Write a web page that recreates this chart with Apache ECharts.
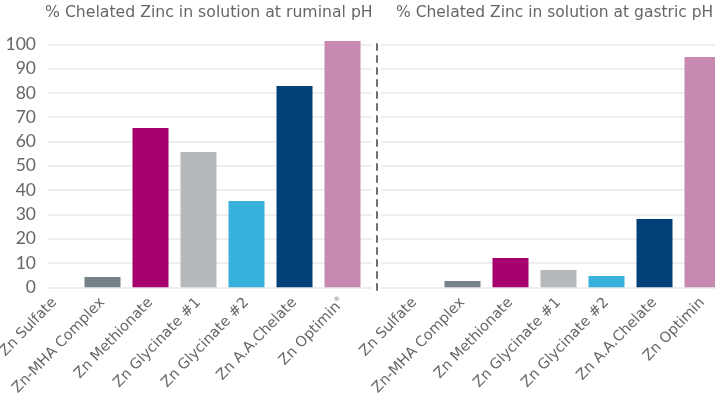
<!DOCTYPE html>
<html>
<head>
<meta charset="utf-8">
<script src="https://cdn.jsdelivr.net/npm/echarts@6/dist/echarts.min.js"></script>
<style>
  html, body { margin: 0; padding: 0; background: #fff; }
  #chart { width: 715px; height: 416px; }
</style>
</head>
<body>
<div id="chart"></div>
<script>
// categories and values
const categoriesRuminal = ['Zn Sulfate', 'Zn-MHA Complex', 'Zn Methionate', 'Zn Glycinate #1', 'Zn Glycinate #2', 'Zn A.A.Chelate', 'Zn Optimin']
const categoriesGastric = ['Zn Sulfate', 'Zn-MHA Complex', 'Zn Methionate', 'Zn Glycinate #1', 'Zn Glycinate #2', 'Zn A.A.Chelate', 'Zn Optimin']
const ruminalValues = [0, 4.2, 65.6, 55.7, 35.5, 82.8, 101.4]
const gastricValues = [0, 2.6, 12.1, 7.1, 4.6, 28.1, 94.8]
const barColors = ['#748187', '#748187', '#a5006e', '#b6b9bc', '#38b1dc', '#003f77', '#c889b0']
const yTicks = [0, 10, 20, 30, 40, 50, 60, 70, 80, 90, 100]
const titles = ['% Chelated Zinc in solution at ruminal pH', '% Chelated Zinc in solution at gastric pH']

const FONT = 'DejaVu Sans'
const TEXT = '#666666'

let myChart = echarts.init(document.getElementById('chart'))

const barData = (vals) => vals.map((v, i) => ({ value: v, itemStyle: { color: barColors[i] } }))

const plotTop = 44.3
const plotH = 243

let option = {
  animation: false,
  textStyle: { fontFamily: FONT },
  title: [
    { text: titles[0], left: 45, top: 5, padding: 0, textStyle: { fontFamily: FONT, fontSize: 15.7, fontWeight: 'normal', color: TEXT } },
    { text: titles[1], left: 396, top: 5, padding: 0, textStyle: { fontFamily: FONT, fontSize: 15.5, fontWeight: 'normal', color: TEXT } }
  ],
  grid: [
    // bar grids
    { left: 30.5, top: plotTop, width: 336, height: plotH, outerBoundsMode: 'none' },
    { left: 390.5, top: plotTop, width: 336, height: plotH, outerBoundsMode: 'none' },
    // gridline grids
    { left: 48, top: plotTop, width: 324, height: plotH, outerBoundsMode: 'none' },
    { left: 381, top: plotTop, width: 334, height: plotH, outerBoundsMode: 'none' },
    // separator
    { left: 377, top: 40, width: 1, height: 250, outerBoundsMode: 'none' }
  ],
  xAxis: [
    {
      gridIndex: 0, type: 'category', data: categoriesRuminal,
      axisLine: { show: false }, axisTick: { show: false },
      axisLabel: {
        rotate: 46, margin: 13, fontSize: 14.5, color: TEXT, fontFamily: FONT, interval: 0,
        formatter: (v, i) => i === 6 ? v + '{r|®}' : v,
        rich: { r: { fontSize: 6, color: TEXT, verticalAlign: 'top', lineHeight: 10 } }
      }
    },
    {
      gridIndex: 1, type: 'category', data: categoriesGastric,
      axisLine: { show: false }, axisTick: { show: false },
      axisLabel: { rotate: 46, margin: 13, fontSize: 14.5, color: TEXT, fontFamily: FONT, interval: 0 }
    },
    { gridIndex: 2, type: 'value', show: false },
    { gridIndex: 3, type: 'value', show: false },
    { gridIndex: 4, type: 'value', show: false }
  ],
  yAxis: [
    { gridIndex: 0, type: 'value', min: 0, max: 100, interval: 10, show: false },
    { gridIndex: 1, type: 'value', min: 0, max: 100, interval: 10, show: false },
    {
      gridIndex: 2, type: 'value', min: yTicks[0], max: yTicks[yTicks.length - 1], interval: 10,
      axisLine: { show: false }, axisTick: { show: false },
      axisLabel: { fontSize: 17.5, color: TEXT, fontFamily: 'Lato', margin: 12 },
      splitLine: { lineStyle: { color: '#e8e8e8', width: 1.5 } }
    },
    {
      gridIndex: 3, type: 'value', min: 0, max: 100, interval: 10,
      axisLine: { show: false }, axisTick: { show: false }, axisLabel: { show: false },
      splitLine: { lineStyle: { color: '#e8e8e8', width: 1.5 } }
    },
    {
      gridIndex: 4, type: 'value', min: 0, max: 100,
      axisLine: { show: true, lineStyle: { color: '#707070', width: 2, type: [6, 6] } },
      axisTick: { show: false }, axisLabel: { show: false }, splitLine: { show: false }
    }
  ],
  series: [
    { type: 'bar', xAxisIndex: 0, yAxisIndex: 0, barWidth: 36, clip: false, data: barData(ruminalValues) },
    { type: 'bar', xAxisIndex: 1, yAxisIndex: 1, barWidth: 36, clip: false, data: barData(gastricValues) }
  ]
}

myChart.setOption(option)
</script>
</body>
</html>
